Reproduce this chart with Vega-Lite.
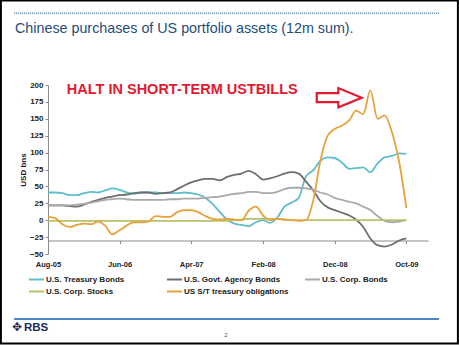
{
"$schema": "https://vega.github.io/schema/vega-lite/v6.json",
"width": 380, "height": 169,
"autosize": {"type": "none"},
"padding": {"left": 48, "top": 85, "right": 31, "bottom": 91},
"background": "white",
"config": {"view": {"stroke": null}, "font": "Liberation Sans"},
"datasets": {
"series": [
{"d":"2005/08/01","s":"U.S. Treasury Bonds","v":41},{"d":"2005/09/01","s":"U.S. Treasury Bonds","v":41},{"d":"2005/10/01","s":"U.S. Treasury Bonds","v":40},{"d":"2005/11/01","s":"U.S. Treasury Bonds","v":37},{"d":"2005/12/01","s":"U.S. Treasury Bonds","v":37},{"d":"2006/01/01","s":"U.S. Treasury Bonds","v":40},{"d":"2006/02/01","s":"U.S. Treasury Bonds","v":42},{"d":"2006/03/01","s":"U.S. Treasury Bonds","v":41},{"d":"2006/04/01","s":"U.S. Treasury Bonds","v":44},{"d":"2006/05/01","s":"U.S. Treasury Bonds","v":47},{"d":"2006/06/01","s":"U.S. Treasury Bonds","v":45},{"d":"2006/07/01","s":"U.S. Treasury Bonds","v":41},{"d":"2006/08/01","s":"U.S. Treasury Bonds","v":39},{"d":"2006/09/01","s":"U.S. Treasury Bonds","v":41},{"d":"2006/10/01","s":"U.S. Treasury Bonds","v":41},{"d":"2006/11/01","s":"U.S. Treasury Bonds","v":41},{"d":"2006/12/01","s":"U.S. Treasury Bonds","v":40},{"d":"2007/01/01","s":"U.S. Treasury Bonds","v":40},{"d":"2007/02/01","s":"U.S. Treasury Bonds","v":40},{"d":"2007/03/01","s":"U.S. Treasury Bonds","v":41},{"d":"2007/04/01","s":"U.S. Treasury Bonds","v":40},{"d":"2007/05/01","s":"U.S. Treasury Bonds","v":38},{"d":"2007/06/01","s":"U.S. Treasury Bonds","v":33},{"d":"2007/07/01","s":"U.S. Treasury Bonds","v":24},{"d":"2007/08/01","s":"U.S. Treasury Bonds","v":12},{"d":"2007/09/01","s":"U.S. Treasury Bonds","v":1},{"d":"2007/10/01","s":"U.S. Treasury Bonds","v":-5},{"d":"2007/11/01","s":"U.S. Treasury Bonds","v":-7},{"d":"2007/12/01","s":"U.S. Treasury Bonds","v":-9},{"d":"2008/01/01","s":"U.S. Treasury Bonds","v":-3},{"d":"2008/02/01","s":"U.S. Treasury Bonds","v":0},{"d":"2008/03/01","s":"U.S. Treasury Bonds","v":-4},{"d":"2008/04/01","s":"U.S. Treasury Bonds","v":4},{"d":"2008/05/01","s":"U.S. Treasury Bonds","v":20},{"d":"2008/06/01","s":"U.S. Treasury Bonds","v":26},{"d":"2008/07/01","s":"U.S. Treasury Bonds","v":33},{"d":"2008/08/01","s":"U.S. Treasury Bonds","v":65},{"d":"2008/09/01","s":"U.S. Treasury Bonds","v":74},{"d":"2008/10/01","s":"U.S. Treasury Bonds","v":88},{"d":"2008/11/01","s":"U.S. Treasury Bonds","v":93},{"d":"2008/12/01","s":"U.S. Treasury Bonds","v":92},{"d":"2009/01/01","s":"U.S. Treasury Bonds","v":85},{"d":"2009/02/01","s":"U.S. Treasury Bonds","v":76},{"d":"2009/03/01","s":"U.S. Treasury Bonds","v":77},{"d":"2009/04/01","s":"U.S. Treasury Bonds","v":78},{"d":"2009/05/01","s":"U.S. Treasury Bonds","v":71},{"d":"2009/06/01","s":"U.S. Treasury Bonds","v":84},{"d":"2009/07/01","s":"U.S. Treasury Bonds","v":93},{"d":"2009/08/01","s":"U.S. Treasury Bonds","v":95},{"d":"2009/09/01","s":"U.S. Treasury Bonds","v":99},{"d":"2009/10/01","s":"U.S. Treasury Bonds","v":98},
{"d":"2005/08/01","s":"U.S. Govt. Agency Bonds","v":22},{"d":"2005/09/01","s":"U.S. Govt. Agency Bonds","v":22},{"d":"2005/10/01","s":"U.S. Govt. Agency Bonds","v":22},{"d":"2005/11/01","s":"U.S. Govt. Agency Bonds","v":21},{"d":"2005/12/01","s":"U.S. Govt. Agency Bonds","v":20},{"d":"2006/01/01","s":"U.S. Govt. Agency Bonds","v":23},{"d":"2006/02/01","s":"U.S. Govt. Agency Bonds","v":27},{"d":"2006/03/01","s":"U.S. Govt. Agency Bonds","v":30},{"d":"2006/04/01","s":"U.S. Govt. Agency Bonds","v":33},{"d":"2006/05/01","s":"U.S. Govt. Agency Bonds","v":35},{"d":"2006/06/01","s":"U.S. Govt. Agency Bonds","v":37},{"d":"2006/07/01","s":"U.S. Govt. Agency Bonds","v":38},{"d":"2006/08/01","s":"U.S. Govt. Agency Bonds","v":40},{"d":"2006/09/01","s":"U.S. Govt. Agency Bonds","v":41},{"d":"2006/10/01","s":"U.S. Govt. Agency Bonds","v":41},{"d":"2006/11/01","s":"U.S. Govt. Agency Bonds","v":39},{"d":"2006/12/01","s":"U.S. Govt. Agency Bonds","v":40},{"d":"2007/01/01","s":"U.S. Govt. Agency Bonds","v":41},{"d":"2007/02/01","s":"U.S. Govt. Agency Bonds","v":46},{"d":"2007/03/01","s":"U.S. Govt. Agency Bonds","v":51},{"d":"2007/04/01","s":"U.S. Govt. Agency Bonds","v":56},{"d":"2007/05/01","s":"U.S. Govt. Agency Bonds","v":59},{"d":"2007/06/01","s":"U.S. Govt. Agency Bonds","v":61},{"d":"2007/07/01","s":"U.S. Govt. Agency Bonds","v":61},{"d":"2007/08/01","s":"U.S. Govt. Agency Bonds","v":59},{"d":"2007/09/01","s":"U.S. Govt. Agency Bonds","v":64},{"d":"2007/10/01","s":"U.S. Govt. Agency Bonds","v":67},{"d":"2007/11/01","s":"U.S. Govt. Agency Bonds","v":69},{"d":"2007/12/01","s":"U.S. Govt. Agency Bonds","v":73},{"d":"2008/01/01","s":"U.S. Govt. Agency Bonds","v":68},{"d":"2008/02/01","s":"U.S. Govt. Agency Bonds","v":60},{"d":"2008/03/01","s":"U.S. Govt. Agency Bonds","v":62},{"d":"2008/04/01","s":"U.S. Govt. Agency Bonds","v":65},{"d":"2008/05/01","s":"U.S. Govt. Agency Bonds","v":69},{"d":"2008/06/01","s":"U.S. Govt. Agency Bonds","v":71},{"d":"2008/07/01","s":"U.S. Govt. Agency Bonds","v":69},{"d":"2008/08/01","s":"U.S. Govt. Agency Bonds","v":57},{"d":"2008/09/01","s":"U.S. Govt. Agency Bonds","v":44},{"d":"2008/10/01","s":"U.S. Govt. Agency Bonds","v":28},{"d":"2008/11/01","s":"U.S. Govt. Agency Bonds","v":19},{"d":"2008/12/01","s":"U.S. Govt. Agency Bonds","v":15},{"d":"2009/01/01","s":"U.S. Govt. Agency Bonds","v":11},{"d":"2009/02/01","s":"U.S. Govt. Agency Bonds","v":7},{"d":"2009/03/01","s":"U.S. Govt. Agency Bonds","v":1},{"d":"2009/04/01","s":"U.S. Govt. Agency Bonds","v":-10},{"d":"2009/05/01","s":"U.S. Govt. Agency Bonds","v":-27},{"d":"2009/06/01","s":"U.S. Govt. Agency Bonds","v":-37},{"d":"2009/07/01","s":"U.S. Govt. Agency Bonds","v":-39},{"d":"2009/08/01","s":"U.S. Govt. Agency Bonds","v":-36},{"d":"2009/09/01","s":"U.S. Govt. Agency Bonds","v":-30},{"d":"2009/10/01","s":"U.S. Govt. Agency Bonds","v":-27},
{"d":"2005/08/01","s":"U.S. Corp. Bonds","v":22},{"d":"2005/09/01","s":"U.S. Corp. Bonds","v":22},{"d":"2005/10/01","s":"U.S. Corp. Bonds","v":22},{"d":"2005/11/01","s":"U.S. Corp. Bonds","v":22},{"d":"2005/12/01","s":"U.S. Corp. Bonds","v":23},{"d":"2006/01/01","s":"U.S. Corp. Bonds","v":24},{"d":"2006/02/01","s":"U.S. Corp. Bonds","v":26},{"d":"2006/03/01","s":"U.S. Corp. Bonds","v":28},{"d":"2006/04/01","s":"U.S. Corp. Bonds","v":30},{"d":"2006/05/01","s":"U.S. Corp. Bonds","v":31},{"d":"2006/06/01","s":"U.S. Corp. Bonds","v":32},{"d":"2006/07/01","s":"U.S. Corp. Bonds","v":31},{"d":"2006/08/01","s":"U.S. Corp. Bonds","v":30},{"d":"2006/09/01","s":"U.S. Corp. Bonds","v":30},{"d":"2006/10/01","s":"U.S. Corp. Bonds","v":30},{"d":"2006/11/01","s":"U.S. Corp. Bonds","v":30},{"d":"2006/12/01","s":"U.S. Corp. Bonds","v":30},{"d":"2007/01/01","s":"U.S. Corp. Bonds","v":31},{"d":"2007/02/01","s":"U.S. Corp. Bonds","v":31},{"d":"2007/03/01","s":"U.S. Corp. Bonds","v":32},{"d":"2007/04/01","s":"U.S. Corp. Bonds","v":32},{"d":"2007/05/01","s":"U.S. Corp. Bonds","v":32},{"d":"2007/06/01","s":"U.S. Corp. Bonds","v":33},{"d":"2007/07/01","s":"U.S. Corp. Bonds","v":34},{"d":"2007/08/01","s":"U.S. Corp. Bonds","v":35},{"d":"2007/09/01","s":"U.S. Corp. Bonds","v":37},{"d":"2007/10/01","s":"U.S. Corp. Bonds","v":39},{"d":"2007/11/01","s":"U.S. Corp. Bonds","v":40},{"d":"2007/12/01","s":"U.S. Corp. Bonds","v":42},{"d":"2008/01/01","s":"U.S. Corp. Bonds","v":42},{"d":"2008/02/01","s":"U.S. Corp. Bonds","v":40},{"d":"2008/03/01","s":"U.S. Corp. Bonds","v":40},{"d":"2008/04/01","s":"U.S. Corp. Bonds","v":42},{"d":"2008/05/01","s":"U.S. Corp. Bonds","v":46},{"d":"2008/06/01","s":"U.S. Corp. Bonds","v":48},{"d":"2008/07/01","s":"U.S. Corp. Bonds","v":48},{"d":"2008/08/01","s":"U.S. Corp. Bonds","v":47},{"d":"2008/09/01","s":"U.S. Corp. Bonds","v":45},{"d":"2008/10/01","s":"U.S. Corp. Bonds","v":41},{"d":"2008/11/01","s":"U.S. Corp. Bonds","v":38},{"d":"2008/12/01","s":"U.S. Corp. Bonds","v":33},{"d":"2009/01/01","s":"U.S. Corp. Bonds","v":30},{"d":"2009/02/01","s":"U.S. Corp. Bonds","v":27},{"d":"2009/03/01","s":"U.S. Corp. Bonds","v":25},{"d":"2009/04/01","s":"U.S. Corp. Bonds","v":20},{"d":"2009/05/01","s":"U.S. Corp. Bonds","v":15},{"d":"2009/06/01","s":"U.S. Corp. Bonds","v":6},{"d":"2009/07/01","s":"U.S. Corp. Bonds","v":-1},{"d":"2009/08/01","s":"U.S. Corp. Bonds","v":-3},{"d":"2009/09/01","s":"U.S. Corp. Bonds","v":-2},{"d":"2009/10/01","s":"U.S. Corp. Bonds","v":0},
{"d":"2005/08/01","s":"U.S. Corp. Stocks","v":-1},{"d":"2005/09/01","s":"U.S. Corp. Stocks","v":-1},{"d":"2005/10/01","s":"U.S. Corp. Stocks","v":-1},{"d":"2005/11/01","s":"U.S. Corp. Stocks","v":-1},{"d":"2005/12/01","s":"U.S. Corp. Stocks","v":-1},{"d":"2006/01/01","s":"U.S. Corp. Stocks","v":-1},{"d":"2006/02/01","s":"U.S. Corp. Stocks","v":-1},{"d":"2006/03/01","s":"U.S. Corp. Stocks","v":-1},{"d":"2006/04/01","s":"U.S. Corp. Stocks","v":-1},{"d":"2006/05/01","s":"U.S. Corp. Stocks","v":-1},{"d":"2006/06/01","s":"U.S. Corp. Stocks","v":-1},{"d":"2006/07/01","s":"U.S. Corp. Stocks","v":-1},{"d":"2006/08/01","s":"U.S. Corp. Stocks","v":-1},{"d":"2006/09/01","s":"U.S. Corp. Stocks","v":-1},{"d":"2006/10/01","s":"U.S. Corp. Stocks","v":-1},{"d":"2006/11/01","s":"U.S. Corp. Stocks","v":-1},{"d":"2006/12/01","s":"U.S. Corp. Stocks","v":-1},{"d":"2007/01/01","s":"U.S. Corp. Stocks","v":-1},{"d":"2007/02/01","s":"U.S. Corp. Stocks","v":-1},{"d":"2007/03/01","s":"U.S. Corp. Stocks","v":-1},{"d":"2007/04/01","s":"U.S. Corp. Stocks","v":-1},{"d":"2007/05/01","s":"U.S. Corp. Stocks","v":-1},{"d":"2007/06/01","s":"U.S. Corp. Stocks","v":-1},{"d":"2007/07/01","s":"U.S. Corp. Stocks","v":-1},{"d":"2007/08/01","s":"U.S. Corp. Stocks","v":-1},{"d":"2007/09/01","s":"U.S. Corp. Stocks","v":-1},{"d":"2007/10/01","s":"U.S. Corp. Stocks","v":0},{"d":"2007/11/01","s":"U.S. Corp. Stocks","v":1},{"d":"2007/12/01","s":"U.S. Corp. Stocks","v":2},{"d":"2008/01/01","s":"U.S. Corp. Stocks","v":2},{"d":"2008/02/01","s":"U.S. Corp. Stocks","v":2},{"d":"2008/03/01","s":"U.S. Corp. Stocks","v":2},{"d":"2008/04/01","s":"U.S. Corp. Stocks","v":2},{"d":"2008/05/01","s":"U.S. Corp. Stocks","v":1},{"d":"2008/06/01","s":"U.S. Corp. Stocks","v":0},{"d":"2008/07/01","s":"U.S. Corp. Stocks","v":0},{"d":"2008/08/01","s":"U.S. Corp. Stocks","v":0},{"d":"2008/09/01","s":"U.S. Corp. Stocks","v":0},{"d":"2008/10/01","s":"U.S. Corp. Stocks","v":0},{"d":"2008/11/01","s":"U.S. Corp. Stocks","v":0},{"d":"2008/12/01","s":"U.S. Corp. Stocks","v":0},{"d":"2009/01/01","s":"U.S. Corp. Stocks","v":0},{"d":"2009/02/01","s":"U.S. Corp. Stocks","v":0},{"d":"2009/03/01","s":"U.S. Corp. Stocks","v":0},{"d":"2009/04/01","s":"U.S. Corp. Stocks","v":0},{"d":"2009/05/01","s":"U.S. Corp. Stocks","v":0},{"d":"2009/06/01","s":"U.S. Corp. Stocks","v":0},{"d":"2009/07/01","s":"U.S. Corp. Stocks","v":0},{"d":"2009/08/01","s":"U.S. Corp. Stocks","v":0},{"d":"2009/09/01","s":"U.S. Corp. Stocks","v":0},{"d":"2009/10/01","s":"U.S. Corp. Stocks","v":0},
{"d":"2005/08/01","s":"US S/T treasury obligations","v":5},{"d":"2005/09/01","s":"US S/T treasury obligations","v":3},{"d":"2005/10/01","s":"US S/T treasury obligations","v":-6},{"d":"2005/11/01","s":"US S/T treasury obligations","v":-10},{"d":"2005/12/01","s":"US S/T treasury obligations","v":-7},{"d":"2006/01/01","s":"US S/T treasury obligations","v":-5},{"d":"2006/02/01","s":"US S/T treasury obligations","v":-6},{"d":"2006/03/01","s":"US S/T treasury obligations","v":-2},{"d":"2006/04/01","s":"US S/T treasury obligations","v":-8},{"d":"2006/05/01","s":"US S/T treasury obligations","v":-21},{"d":"2006/06/01","s":"US S/T treasury obligations","v":-15},{"d":"2006/07/01","s":"US S/T treasury obligations","v":-8},{"d":"2006/08/01","s":"US S/T treasury obligations","v":-3},{"d":"2006/09/01","s":"US S/T treasury obligations","v":-3},{"d":"2006/10/01","s":"US S/T treasury obligations","v":-2},{"d":"2006/11/01","s":"US S/T treasury obligations","v":6},{"d":"2006/12/01","s":"US S/T treasury obligations","v":5},{"d":"2007/01/01","s":"US S/T treasury obligations","v":5},{"d":"2007/02/01","s":"US S/T treasury obligations","v":12},{"d":"2007/03/01","s":"US S/T treasury obligations","v":15},{"d":"2007/04/01","s":"US S/T treasury obligations","v":15},{"d":"2007/05/01","s":"US S/T treasury obligations","v":12},{"d":"2007/06/01","s":"US S/T treasury obligations","v":6},{"d":"2007/07/01","s":"US S/T treasury obligations","v":2},{"d":"2007/08/01","s":"US S/T treasury obligations","v":1},{"d":"2007/09/01","s":"US S/T treasury obligations","v":2},{"d":"2007/10/01","s":"US S/T treasury obligations","v":1},{"d":"2007/11/01","s":"US S/T treasury obligations","v":0},{"d":"2007/12/01","s":"US S/T treasury obligations","v":14},{"d":"2008/01/01","s":"US S/T treasury obligations","v":20},{"d":"2008/02/01","s":"US S/T treasury obligations","v":7},{"d":"2008/03/01","s":"US S/T treasury obligations","v":0},{"d":"2008/04/01","s":"US S/T treasury obligations","v":2},{"d":"2008/05/01","s":"US S/T treasury obligations","v":1},{"d":"2008/06/01","s":"US S/T treasury obligations","v":0},{"d":"2008/07/01","s":"US S/T treasury obligations","v":-1},{"d":"2008/08/01","s":"US S/T treasury obligations","v":0},{"d":"2008/09/01","s":"US S/T treasury obligations","v":30},{"d":"2008/10/01","s":"US S/T treasury obligations","v":88},{"d":"2008/11/01","s":"US S/T treasury obligations","v":125},{"d":"2008/12/01","s":"US S/T treasury obligations","v":135},{"d":"2009/01/01","s":"US S/T treasury obligations","v":140},{"d":"2009/02/01","s":"US S/T treasury obligations","v":148},{"d":"2009/03/01","s":"US S/T treasury obligations","v":162},{"d":"2009/04/01","s":"US S/T treasury obligations","v":157},{"d":"2009/05/01","s":"US S/T treasury obligations","v":192},{"d":"2009/06/01","s":"US S/T treasury obligations","v":150},{"d":"2009/07/01","s":"US S/T treasury obligations","v":155},{"d":"2009/08/01","s":"US S/T treasury obligations","v":130},{"d":"2009/09/01","s":"US S/T treasury obligations","v":85},{"d":"2009/10/01","s":"US S/T treasury obligations","v":18}
],
"one": [{}]
},
"layer": [
{
"data": {"name": "series"},
"mark": {"type": "line", "strokeWidth": 1.8, "interpolate": "monotone"},
"encoding": {
"x": {"field": "d", "type": "temporal",
"scale": {"domain": [{"year": 2005, "month": 8, "date": 1}, {"year": 2010, "month": 1, "date": 1}]},
"axis": {"values": [{"year": 2005, "month": 8, "date": 1}, {"year": 2006, "month": 6, "date": 1}, {"year": 2007, "month": 4, "date": 1}, {"year": 2008, "month": 2, "date": 1}, {"year": 2008, "month": 12, "date": 1}, {"year": 2009, "month": 10, "date": 1}],
"format": "%b-%y", "offset": -13.5, "tickSize": 3, "labelPadding": 17, "labelFontSize": 7.5, "labelFontWeight": "bold", "labelColor": "#222222", "domainColor": "#8c8c8c", "tickColor": "#8c8c8c", "grid": false, "title": null, "labelFlush": false, "labelOverlap": false}},
"y": {"field": "v", "type": "quantitative",
"scale": {"domain": [-50, 200], "nice": false, "zero": false},
"axis": {"values": [-50, -25, 0, 25, 50, 75, 100, 125, 150, 175, 200], "tickCount": 20, "labelOverlap": false, "labelSeparation": 0, "labelFlush": false, "tickSize": 3, "labelPadding": 2, "labelFontSize": 8, "labelFontWeight": "bold", "labelColor": "#222222", "domainColor": "#8c8c8c", "tickColor": "#8c8c8c", "grid": false, "title": "USD bns", "titleFontSize": 8, "titleFontWeight": "bold", "titleColor": "#222222", "titlePadding": 2}},
"color": {"field": "s", "type": "nominal",
"scale": {"domain": ["U.S. Treasury Bonds", "U.S. Govt. Agency Bonds", "U.S. Corp. Bonds", "U.S. Corp. Stocks", "US S/T treasury obligations"], "range": ["#5fbdcc", "#6e6e6e", "#a9a9a9", "#b7c26b", "#e9a23b"]},
"legend": {"orient": "none", "legendX": -15.5, "legendY": 190.5, "direction": "horizontal", "columns": 3, "gridAlign": "all", "columnPadding": 12, "rowPadding": 4, "padding": 0, "symbolType": "M-2.5,0L2.5,0", "symbolSize": 36, "symbolStrokeWidth": 2, "labelFontSize": 8, "labelFontWeight": "bold", "labelOffset": 5.5, "labelColor": "#222222", "labelLimit": 200, "title": null}}
}
},
{
"data": {"name": "one"},
"mark": {"type": "rect", "fillOpacity": 0, "fill": "white", "stroke": "black", "strokeWidth": 2},
"encoding": {
"x": {"datum": {"year": 2005, "month": 1, "date": 13}, "type": "temporal"},
"x2": {"datum": {"year": 2010, "month": 5, "date": 8}},
"y": {"datum": 325, "type": "quantitative"},
"y2": {"datum": -182.4}
}
},
{
"data": {"name": "one"},
"mark": {"type": "rule", "stroke": "#5b82a8", "strokeWidth": 1.5, "strokeDash": [1, 1]},
"encoding": {
"x": {"datum": {"year": 2005, "month": 3, "date": 10}, "type": "temporal"},
"x2": {"datum": {"year": 2010, "month": 2, "date": 17}},
"y": {"datum": 306, "type": "quantitative"}
}
},
{
"data": {"name": "one"},
"mark": {"type": "text", "text": "Chinese purchases of US portfolio assets (12m sum).", "align": "left", "baseline": "alphabetic", "fontSize": 14.3, "color": "#1f4e79"},
"encoding": {
"x": {"datum": {"year": 2005, "month": 3, "date": 14}, "type": "temporal"},
"y": {"datum": 276.5, "type": "quantitative"}
}
},
{
"data": {"name": "one"},
"mark": {"type": "rule", "stroke": "#4a86c5", "strokeWidth": 2},
"encoding": {
"x": {"datum": {"year": 2005, "month": 3, "date": 10}, "type": "temporal"},
"x2": {"datum": {"year": 2010, "month": 2, "date": 17}},
"y": {"datum": -146.2, "type": "quantitative"}
}
},
{
"data": {"name": "one"},
"mark": {"type": "text", "text": "✥", "align": "center", "baseline": "alphabetic", "fontSize": 12, "color": "#1d2c5e"},
"encoding": {
"x": {"datum": {"year": 2005, "month": 3, "date": 24}, "type": "temporal"},
"y": {"datum": -163.9, "type": "quantitative"}
}
},
{
"data": {"name": "one"},
"mark": {"type": "text", "text": "RBS", "align": "left", "baseline": "alphabetic", "fontSize": 11.5, "fontWeight": "bold", "color": "#1d2c5e"},
"encoding": {
"x": {"datum": {"year": 2005, "month": 4, "date": 21}, "type": "temporal"},
"y": {"datum": -163.9, "type": "quantitative"}
}
},
{
"data": {"name": "one"},
"mark": {"type": "text", "text": "2", "align": "center", "baseline": "middle", "fontSize": 6, "color": "#555555"},
"encoding": {
"x": {"datum": {"year": 2007, "month": 8, "date": 27}, "type": "temporal"},
"y": {"datum": -169.8, "type": "quantitative"}
}
},
{
"data": {"name": "one"},
"mark": {"type": "text", "text": "HALT IN SHORT-TERM USTBILLS", "align": "left", "baseline": "alphabetic", "fontSize": 14.5, "fontWeight": "bold", "color": "#e3192f"},
"encoding": {
"x": {"datum": {"year": 2005, "month": 10, "date": 20}, "type": "temporal"},
"y": {"datum": 187.4, "type": "quantitative"}
}
},
{
"data": {"name": "one"},
"mark": {"type": "point", "shape": "M-1,-0.2L-0.04,-0.2L-0.04,-0.43L1,0L-0.04,0.43L-0.04,0.2L-1,0.2Z", "size": 2025, "filled": true, "fill": "white", "stroke": "#e3192f", "strokeWidth": 2.2, "opacity": 1},
"encoding": {
"x": {"datum": {"year": 2008, "month": 12, "date": 20}, "type": "temporal"},
"y": {"datum": 181.2, "type": "quantitative"}
}
}
]
}
